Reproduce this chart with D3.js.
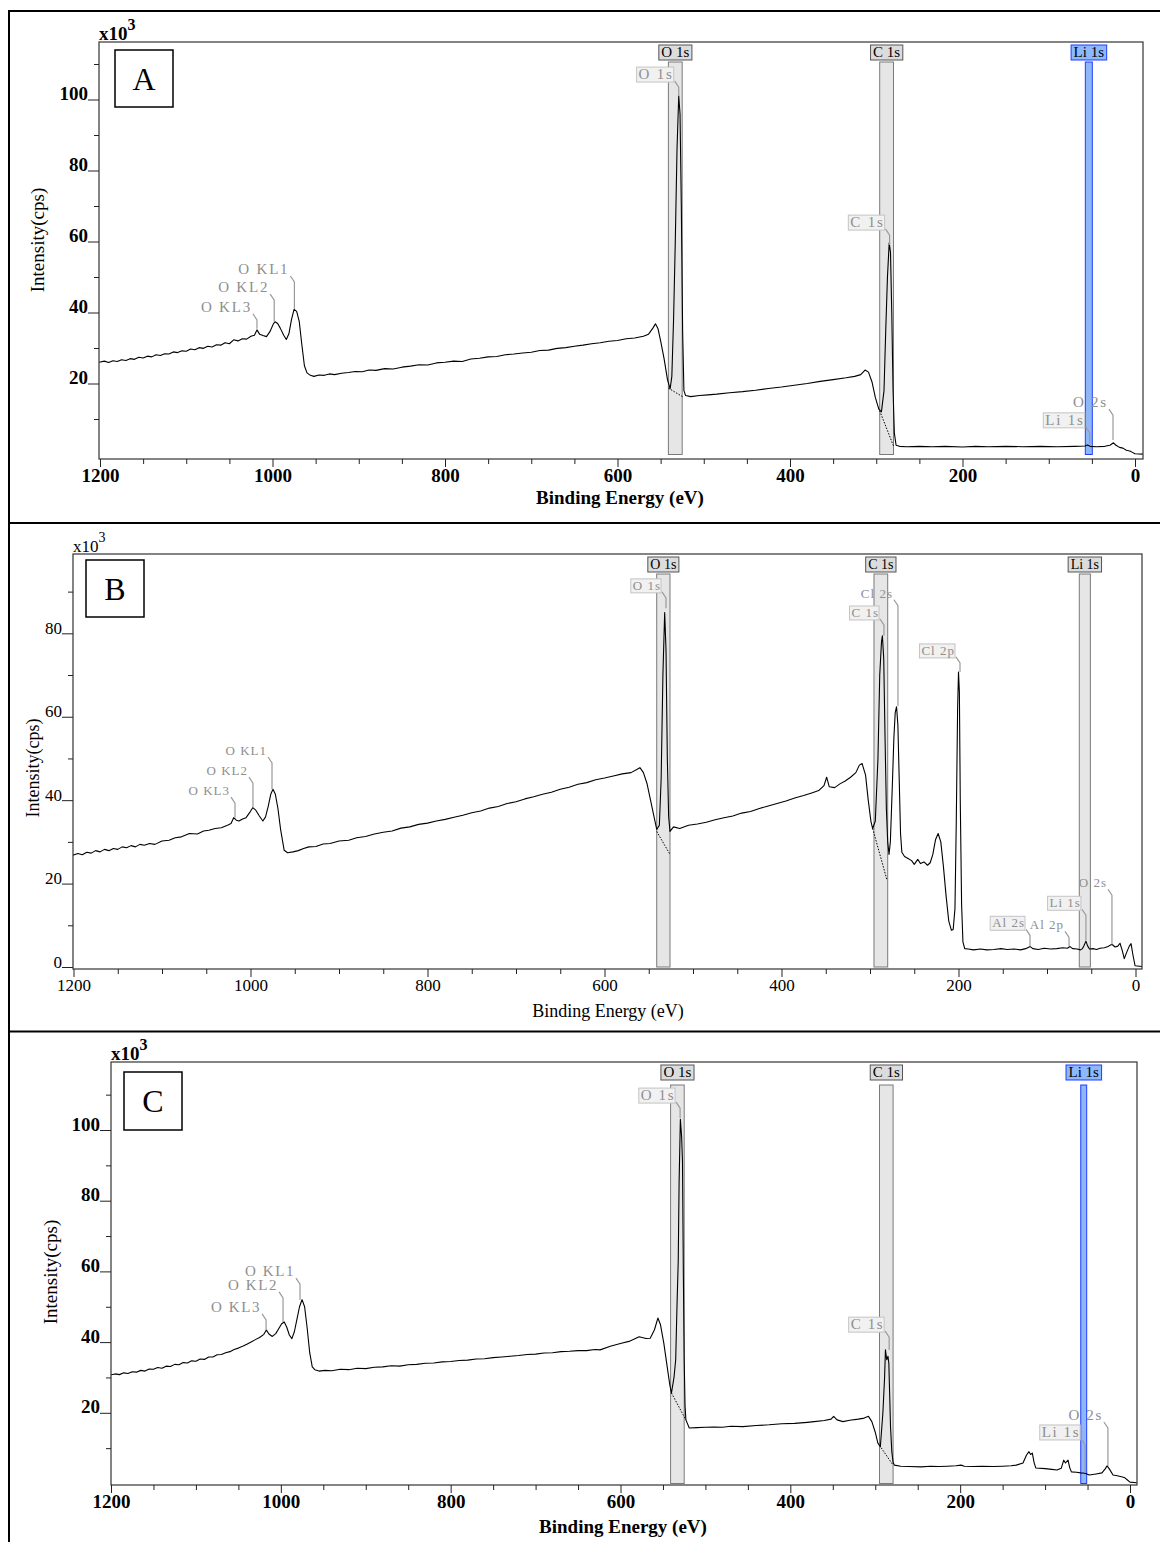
<!DOCTYPE html>
<html>
<head>
<meta charset="utf-8">
<script src="https://cdn.jsdelivr.net/npm/d3@7"></script>
<style>
  html, body { margin: 0; padding: 0; background: #fff; }
  svg { display: block; }
</style>
</head>
<body>
<svg id="chart" width="1160" height="1542"></svg>
<script>
// ---- data (binding energy eV, intensity x10^3 cps) ----
const xMajorTicks = [1200, 1000, 800, 600, 400, 200, 0];
const xMinorTicks = [1150, 1100, 1050, 950, 900, 850, 750, 700, 650, 550, 500, 450, 350, 300, 250, 150, 100, 50];

const yMajorA = [20, 40, 60, 80, 100];
const yMinorA = [10, 30, 50, 70, 90, 110];
const yMajorB = [0, 20, 40, 60, 80];
const yMinorB = [10, 30, 50, 70, 90];
const yMajorC = [20, 40, 60, 80, 100];
const yMinorC = [10, 30, 50, 70, 90, 110];

const spectrumA = [
  [1201,26.0],[1195,26.3],[1190,25.9],[1185,26.4],[1180,26.2],[1175,26.7],[1170,26.5],[1165,27.0],[1160,26.8],
  [1155,27.4],[1150,27.2],[1145,27.7],[1140,27.5],[1135,28.1],[1130,27.9],[1125,28.4],[1120,28.3],[1115,28.9],
  [1110,28.7],[1105,29.2],[1100,29.1],[1095,29.7],[1090,29.5],[1085,30.1],[1080,29.9],[1075,30.5],[1070,30.3],
  [1065,30.9],[1060,30.8],[1055,31.5],[1050,31.2],[1045,32.3],[1040,32.0],[1035,32.6],[1030,32.5],[1025,33.3],
  [1021,33.6],[1018,35.1],[1015,33.9],[1011,33.5],[1007,33.2],[1003,34.6],[999,36.8],[997,37.4],[994,36.9],
  [991,35.6],[987,33.6],[984,32.4],[981,34.0],[978,38.0],[975,40.9],[972,40.3],[969,37.5],[966,31.0],[963,25.0],
  [960,23.0],[956,22.3],[952,22.0],[946,22.4],[940,22.3],[934,22.7],[928,22.5],[920,22.9],[912,23.1],[904,23.4],
  [896,23.3],[888,23.8],[880,23.7],[870,24.2],[860,24.1],[850,24.6],[840,24.9],[830,25.3],[820,25.2],[810,25.8],
  [800,26.0],[790,26.3],[780,26.2],[770,26.9],[760,27.1],[750,27.5],[740,27.6],[730,28.1],[720,28.3],[710,28.6],
  [700,28.8],[690,29.3],[680,29.4],[670,29.9],[660,30.1],[650,30.5],[640,30.8],[630,31.2],[620,31.5],[610,31.9],
  [600,32.1],[590,32.6],[580,32.8],[570,33.3],[564,33.9],[559,35.6],[556,36.8],[553,35.4],[550,32.0],[546,27.0],
  [542,21.0],[539,18.5],[537,22],[535,38],[533,60],[531,86],[529,101],[527.5,96],[526,70],[524.5,35],[523,18],
  [521,16.6],[515,16.3],[505,16.6],[495,16.8],[485,17.0],[470,17.4],[455,17.7],[440,18.1],[425,18.6],[410,19.0],
  [395,19.5],[380,20.0],[365,20.6],[350,21.1],[335,21.6],[325,22.0],[318,22.5],[313,23.8],[309,23.2],[305,20.5],
  [301,16.0],[297,12.8],[294,12.0],[291,18],[289,35],[287,50],[285,59.6],[283.5,57],[282,40],[280.5,18],[279,6],
  [277,2.6],[273,2.3],[265,2.2],[250,2.3],[235,2.2],[220,2.3],[200,2.1],[185,2.3],[170,2.2],[150,2.3],[130,2.2],
  [110,2.3],[90,2.2],[70,2.3],[58,2.4],[55,2.7],[52,2.3],[45,2.2],[35,2.3],[29,2.6],[25,3.3],[22,2.6],[18,2.0],
  [14,1.8],[10,1.2],[6,1.0],[3,0.6],[0,0.2],[-9,0.1]
];

const spectrumB = [
  [1201,26.8],[1195,27.2],[1190,26.9],[1185,27.5],[1180,27.3],[1175,27.9],[1170,27.6],[1165,28.2],[1160,27.9],
  [1155,28.4],[1150,28.2],[1145,28.8],[1140,28.6],[1135,29.1],[1130,28.8],[1125,29.4],[1120,29.2],[1114,29.6],
  [1108,29.4],[1100,30.2],[1092,30.4],[1085,31.0],[1078,31.2],[1069,32.0],[1060,31.9],[1053,32.6],[1047,32.8],
  [1040,33.2],[1033,33.4],[1026,34.0],[1022,34.4],[1019,35.8],[1016,35.2],[1013,35.0],[1009,35.5],[1005,35.8],
  [1001,37.0],[997.5,38.2],[994,37.6],[990,36.2],[986,35.0],[983,36.0],[980,38.5],[977,41.5],[974.6,42.6],
  [972,41.5],[969,38.0],[966,33.0],[962,28.0],[958,27.4],[952,27.6],[946,27.9],[940,28.4],[934,28.8],[926,28.9],
  [918,29.5],[910,29.6],[900,30.2],[889,30.4],[880,31.0],[870,31.3],[860,31.9],[850,32.3],[840,32.6],[830,33.3],
  [820,33.6],[810,34.2],[800,34.5],[790,35.0],[780,35.4],[770,35.9],[760,36.4],[750,37.0],[740,37.4],[730,38.1],
  [720,38.5],[710,39.2],[700,39.6],[690,40.3],[680,40.8],[670,41.4],[660,41.9],[650,42.6],[640,43.1],[630,43.8],
  [620,44.2],[610,44.9],[600,45.3],[590,45.8],[580,46.3],[570,46.6],[563,47.4],[560,47.8],[556,46.6],[552,44.0],
  [548,40.0],[544,36.0],[541,33.0],[538,34],[536,45],[534,70],[532,85],[530.5,76],[529,50],[527.5,36],[526,32.5],
  [522,33.6],[515,33.2],[505,34.0],[495,34.3],[485,34.7],[475,35.3],[465,35.8],[455,36.2],[445,36.9],[435,37.3],
  [425,38.0],[415,38.6],[405,39.2],[395,39.8],[385,40.5],[375,41.1],[365,41.8],[358,42.3],[352,43.5],[349,45.5],
  [346,43.2],[340,43.0],[334,43.9],[328,44.6],[322,45.5],[316,46.6],[312,48.4],[309,48.8],[305,46],[302,40],
  [299,35],[297,33.2],[294,35],[291,50],[289,70],[287,78],[286,79.4],[284.5,74],[283,55],[281.5,38],[280,30],
  [278.5,27],[277,30],[275,42],[273,55],[271.5,61],[270,62.4],[268.5,58],[267,45],[265.5,32],[264,27.5],
  [261,26.5],[257,26.0],[253,25.5],[250,24.6],[246,25.8],[243,24.8],[239,25.2],[235,24.4],[232,25.0],[229,27.0],
  [226,30.5],[223,32.0],[220,30.0],[217,24.0],[214,17.0],[211,11.0],[208,8.8],[206,9.0],[204,14],[202.5,35],
  [201,62],[200,70.7],[199,66],[198,40],[196.5,15],[195,6],[193,4.4],[189,4.3],[183,4.1],[175,4.3],[168,4.1],
  [160,4.2],[152,4.4],[145,4.2],[137,4.3],[130,4.1],[124,4.4],[119,4.9],[116,4.4],[110,4.2],[103,4.5],[96,4.3],
  [89,4.4],[82,4.6],[77,4.5],[74,4.9],[71,4.4],[66,4.3],[62,4.1],[60,4.4],[58,5.2],[56,6.2],[54,5.0],[52,4.3],
  [48,4.4],[44,4.2],[40,4.5],[35,4.6],[31,4.9],[28,5.3],[26.4,5.4],[23,4.8],[20,5.0],[17.5,5.7],[15,4.0],
  [12.7,2.0],[10,3.5],[7,5.0],[5,5.6],[3,3.0],[0.5,0.3],[-8,0.1]
];

const spectrumC = [
  [1201,30.7],[1195,31.0],[1190,30.8],[1185,31.3],[1180,31.1],[1175,31.6],[1170,31.5],[1165,32.0],[1160,31.8],
  [1155,32.4],[1150,32.3],[1145,32.8],[1140,32.6],[1135,33.2],[1130,33.1],[1125,33.7],[1120,33.6],[1115,34.2],
  [1110,34.1],[1105,34.7],[1100,34.6],[1095,35.2],[1090,35.1],[1085,35.8],[1080,35.8],[1075,36.4],[1070,36.5],
  [1065,37.0],[1060,37.3],[1055,37.9],[1050,38.3],[1045,38.8],[1040,39.4],[1035,40.0],[1030,40.7],[1025,41.3],
  [1020,42.2],[1017,43.4],[1014,42.3],[1010,41.6],[1006,42.4],[1002,44.0],[999,45.2],[996,45.7],[993,44.2],
  [990,42.0],[987,41.0],[984,43.0],[981,46.5],[978,50.0],[975,52.0],[972,50.0],[969,44],[966,37],[963,33],
  [960,32.2],[955,31.8],[948,32.0],[940,31.9],[930,32.3],[920,32.2],[910,32.6],[900,32.5],[890,32.9],[880,33.0],
  [870,33.3],[860,33.2],[850,33.6],[840,33.7],[830,34.0],[820,34.1],[810,34.4],[800,34.5],[790,34.8],[780,34.9],
  [770,35.2],[760,35.3],[750,35.6],[740,35.8],[730,36.0],[720,36.2],[710,36.5],[700,36.6],[690,36.9],[680,37.0],
  [670,37.3],[660,37.4],[650,37.6],[640,37.6],[630,37.9],[624,37.8],[612,38.8],[599,39.7],[590,40.2],[578,41.5],
  [570,41.0],[565,41.1],[560,43.5],[556,46.8],[553,45.0],[549,39.7],[545,33.0],[542,28.0],[540,25.6],[537,30],
  [535,35],[533.5,50],[532,63],[531,85],[529.5,103],[528,98],[527,91],[526,60],[525,35],[524,22],[523,18],
  [519,15.7],[510,15.8],[500,15.9],[490,16.0],[480,15.9],[470,16.2],[456,16.1],[440,16.4],[425,16.6],[410,16.9],
  [395,17.0],[380,17.3],[372,17.5],[360,17.8],[352,18.2],[349,19.0],[345,18.0],[338,17.5],[330,17.9],[320,18.2],
  [313,18.5],[308,19.0],[304,17.5],[300,14.5],[297,11.5],[294,10.4],[291,20],[289,30],[288,37.8],[286.5,35],
  [285,36],[284,34],[283,25],[282,16],[280.5,9],[279,6],[277.5,5.2],[270,4.9],[260,4.8],[246,4.7],[235,4.9],
  [225,4.8],[215,4.9],[205,5.0],[199,5.2],[195,4.9],[185,4.8],[175,4.9],[161,4.8],[150,4.9],[140,5.0],[134,5.2],
  [126,5.8],[122,8.0],[119,9.0],[117,8.2],[115,8.6],[113,6.0],[111,4.4],[100,4.2],[92,4.0],[86,3.8],[81,4.3],
  [78,6.6],[76,5.8],[73,6.6],[71,4.5],[69,3.3],[63,3.2],[58,3.0],[53,2.9],[48,2.4],[40,2.7],[33,3.0],[29,4.2],
  [27,5.0],[24,4.0],[20,2.4],[15,2.2],[10,1.9],[6,1.6],[3,1.0],[0,0.4],[-8,0.2]
];

// quantification regions: [name, high BE, low BE, highlighted]
const regionsA = [['O 1s', 541, 525, false], ['C 1s', 296, 280, false], ['Li 1s', 57.6, 49.5, true]];
const regionsB = [['O 1s', 541, 526, false], ['C 1s', 295.5, 280, false], ['Li 1s', 63.5, 51, false]];
const regionsC = [['O 1s', 541, 525, false], ['C 1s', 295, 279, false], ['Li 1s', 58, 51, true]];

// dotted backgrounds under the fitted regions: [[BE, I], [BE, I]]
const backgroundsA = [[[541, 18.7], [524, 16.2]], [[296, 12.3], [280, 2.4]]];
const backgroundsB = [[[541, 32.5], [526, 27.0]], [[297, 33.2], [281, 21.0]]];
const backgroundsC = [[[540, 25.6], [523, 18.0]], [[295, 10.8], [279, 5.2]]];

// peak labels: [text, BE, peak intensity, label level, boxed]
const peaksA = [
  ['O KL1', 974.6, 41.0, 48.6, false], ['O KL2', 998, 37.3, 43.5, false], ['O KL3', 1018, 35.4, 37.9, false],
  ['O 1s', 529, 101, 103.5, true], ['C 1s', 284.5, 59.0, 61.8, true],
  ['Li 1s', 52.5, 3.0, 6.1, true], ['O 2s', 25.5, 4.1, 11.1, false]
];
const peaksB = [
  ['O KL1', 975.7, 42.6, 48.9, false], ['O KL2', 997.2, 38.3, 44.1, false], ['O KL3', 1017.5, 35.8, 39.3, false],
  ['O 1s', 530.5, 86, 88.5, true], ['C 1s', 284.2, 79.4, 82, true], ['Cl 2s', 268.4, 62.6, 86.6, false],
  ['Cl 2p', 198.3, 70.7, 72.9, true], ['Al 2s', 119.2, 5.0, 7.6, true], ['Al 2p', 75.1, 5.0, 7.1, false],
  ['Li 1s', 56, 6.4, 12.4, true], ['O 2s', 26.6, 5.4, 17.2, false]
];
const peaksC = [
  ['O KL1', 977.4, 51.9, 56.4, false], ['O KL2', 997.4, 45.7, 52.5, false], ['O KL3', 1017.4, 43.4, 46.3, false],
  ['O 1s', 529.8, 103.4, 106.2, true], ['C 1s', 283.6, 37.8, 41.4, true],
  ['Li 1s', 52.8, 3.0, 10.9, true], ['O 2s', 26, 5.0, 15.7, false]
];

// ---- layout ----
const SERIF = "'Liberation Serif', 'Times New Roman', serif";

const panels = [
  { name: 'A', spec: spectrumA, regions: regionsA, bgs: backgroundsA, peaks: peaksA, yMajor: yMajorA, yMinor: yMinorA,
    plot: { l: 99, t: 42, r: 1143, b: 459 }, xRange: [100, 1135], yRange: [454.5, 99.5],
    bold: true, tickFs: 19, titleFs: 19, labFs: 15, labLs: 1.8, topFs: 15, barGap: 20,
    xTitle: [620, 504], yTitle: [37, 240], box: [115, 50, 58, 57] },
  { name: 'B', spec: spectrumB, regions: regionsB, bgs: backgroundsB, peaks: peaksB, yMajor: yMajorB, yMinor: yMinorB,
    plot: { l: 73, t: 554, r: 1142, b: 969 }, xRange: [73.5, 1135.5], yRange: [967, 549.9],
    bold: false, tickFs: 17, titleFs: 18, labFs: 13, labLs: 1, topFs: 14, barGap: 20,
    xTitle: [608, 1017], yTitle: [33, 768], box: [86, 560, 58, 57] },
  { name: 'C', spec: spectrumC, regions: regionsC, bgs: backgroundsC, peaks: peaksC, yMajor: yMajorC, yMinor: yMinorC,
    plot: { l: 111, t: 1062, r: 1137, b: 1485 }, xRange: [111, 1130], yRange: [1483.5, 1130],
    bold: true, tickFs: 19, titleFs: 19, labFs: 15, labLs: 1.6, topFs: 15, barGap: 23,
    xTitle: [623, 1533], yTitle: [50, 1272], box: [124, 1072, 58, 58] }
];

const svg = d3.select('#chart');
svg.append('rect').attr('width', 1160).attr('height', 1542).attr('fill', '#fff');

// outer figure frame
const frame = svg.append('g').attr('stroke', '#000').attr('stroke-width', 2);
frame.append('line').attr('x1', 9).attr('x2', 1160).attr('y1', 11).attr('y2', 11);
frame.append('line').attr('x1', 9).attr('x2', 1160).attr('y1', 523).attr('y2', 523);
frame.append('line').attr('x1', 9).attr('x2', 1160).attr('y1', 1031.5).attr('y2', 1031.5);
frame.append('line').attr('x1', 9).attr('x2', 9).attr('y1', 10).attr('y2', 1542);

function drawPanel(p) {
  const P = p.plot;
  const x = d3.scaleLinear().domain([1200, 0]).range(p.xRange);
  const y = d3.scaleLinear().domain([0, 100]).range(p.yRange);
  const g = svg.append('g');
  const clipId = 'clip' + p.name;
  svg.append('clipPath').attr('id', clipId)
    .append('rect').attr('x', P.l).attr('y', P.t).attr('width', P.r - P.l).attr('height', P.b - P.t);
  const inner = g.append('g').attr('clip-path', `url(#${clipId})`);

  // region bars
  p.regions.forEach(([name, hi, lo, hl]) => {
    const x0 = x(hi), x1 = x(lo);
    inner.append('rect')
      .attr('x', x0).attr('y', P.t + p.barGap)
      .attr('width', x1 - x0).attr('height', y(0) - P.t - p.barGap)
      .attr('fill', hl ? '#8fb6f6' : '#e6e6e6')
      .attr('stroke', hl ? '#1f3dff' : '#7a7a7a').attr('stroke-width', 1);
  });

  // backgrounds
  const line = d3.line().x((d) => x(d[0])).y((d) => y(d[1]));
  p.bgs.forEach((bg) => {
    inner.append('path').datum(bg).attr('d', line)
      .attr('fill', 'none').attr('stroke', '#000').attr('stroke-width', 1).attr('stroke-dasharray', '1.5,1.5');
  });

  // spectrum
  inner.append('path').datum(p.spec).attr('d', line)
    .attr('fill', 'none').attr('stroke', '#000').attr('stroke-width', 1.1).attr('stroke-linejoin', 'round');

  // plot frame
  g.append('rect').attr('x', P.l).attr('y', P.t).attr('width', P.r - P.l).attr('height', P.b - P.t)
    .attr('fill', 'none').attr('stroke', '#333').attr('stroke-width', 1.2);

  // region name tags above bars
  p.regions.forEach(([name, hi, lo, hl]) => {
    const cx = (x(hi) + x(lo)) / 2;
    const t = g.append('text').attr('x', cx).attr('y', P.t + 15)
      .attr('text-anchor', 'middle').attr('font-family', SERIF).attr('font-size', p.topFs)
      .attr('fill', '#000').text(name);
    const bb = t.node().getBBox();
    g.insert('rect', () => t.node())
      .attr('x', bb.x - 2.5).attr('y', P.t + 3).attr('width', bb.width + 5).attr('height', 15)
      .attr('fill', hl ? '#8cb8ff' : '#dcdcdc').attr('stroke', hl ? '#1f3dff' : '#555').attr('stroke-width', 1);
  });

  // peak labels with leaders
  p.peaks.forEach(([name, be, peak, level, boxed]) => {
    const xl = x(be), yTop = y(level), yEnd = y(peak);
    g.append('path')
      .attr('d', `M${xl},${yEnd}V${yTop}L${xl - 4},${yTop - 6}`)
      .attr('fill', 'none').attr('stroke', '#9a9a9a').attr('stroke-width', 1.2);
    const t = g.append('text').attr('x', xl - 5).attr('y', yTop - 8)
      .attr('text-anchor', 'end').attr('font-family', SERIF).attr('font-size', p.labFs)
      .attr('letter-spacing', p.labLs)
      .attr('fill', '#8e8e8e').text(name);
    if (boxed) {
      const bb = t.node().getBBox();
      g.insert('rect', () => t.node())
        .attr('x', bb.x - 2).attr('y', bb.y + 1).attr('width', bb.width + 2).attr('height', bb.height - 1)
        .attr('fill', '#f1f1f1').attr('stroke', '#c4c4c4').attr('stroke-width', 1);
    }
  });

  // x axis
  const xAx = g.append('g').attr('transform', `translate(0,${P.b})`)
    .call(d3.axisBottom(x).tickValues(xMajorTicks).tickSize(8).tickPadding(2).tickFormat(d3.format('d')));
  xAx.select('.domain').remove();
  xAx.selectAll('text').attr('font-family', SERIF).attr('font-size', p.tickFs)
    .attr('font-weight', p.bold ? 'bold' : 'normal').attr('fill', '#000');
  const xMin = g.append('g').attr('transform', `translate(0,${P.b})`)
    .call(d3.axisBottom(x).tickValues(xMinorTicks).tickSize(5).tickFormat(''));
  xMin.select('.domain').remove();

  // y axis
  const yAx = g.append('g').attr('transform', `translate(${P.l},0)`)
    .call(d3.axisLeft(y).tickValues(p.yMajor).tickSize(11).tickFormat(d3.format('d')));
  yAx.select('.domain').remove();
  yAx.selectAll('text').attr('x', -11).attr('dy', '0').attr('font-family', SERIF)
    .attr('font-size', p.tickFs).attr('font-weight', p.bold ? 'bold' : 'normal').attr('fill', '#000');
  const yMin = g.append('g').attr('transform', `translate(${P.l},0)`)
    .call(d3.axisLeft(y).tickValues(p.yMinor).tickSize(5).tickFormat(''));
  yMin.select('.domain').remove();
  g.selectAll('.tick line').attr('stroke', '#222');

  // multiplier
  const mult = g.append('text').attr('x', P.l).attr('y', P.t - 2)
    .attr('font-family', SERIF).attr('font-size', p.tickFs).attr('font-weight', p.bold ? 'bold' : 'normal');
  mult.append('tspan').text('x10');
  mult.append('tspan').attr('dy', -10).attr('font-size', p.tickFs - 3).text('3');

  // axis titles
  g.append('text').attr('x', p.xTitle[0]).attr('y', p.xTitle[1]).attr('text-anchor', 'middle')
    .attr('font-family', SERIF).attr('font-size', p.titleFs).attr('font-weight', p.bold ? 'bold' : 'normal')
    .text('Binding Energy (eV)');
  g.append('text').attr('transform', `translate(${p.yTitle[0]},${p.yTitle[1]}) rotate(-90)`)
    .attr('text-anchor', 'middle').attr('dy', '0.35em')
    .attr('font-family', SERIF).attr('font-size', p.titleFs).text('Intensity(cps)');

  // panel letter
  const [bx, by, bw, bh] = p.box;
  g.append('rect').attr('x', bx).attr('y', by).attr('width', bw).attr('height', bh)
    .attr('fill', '#fff').attr('stroke', '#000').attr('stroke-width', 1.5);
  g.append('text').attr('x', bx + bw / 2).attr('y', by + bh / 2).attr('dy', '0.35em')
    .attr('text-anchor', 'middle').attr('font-family', SERIF).attr('font-size', 32).text(p.name);
}

panels.forEach(drawPanel);
</script>
</body>
</html>
